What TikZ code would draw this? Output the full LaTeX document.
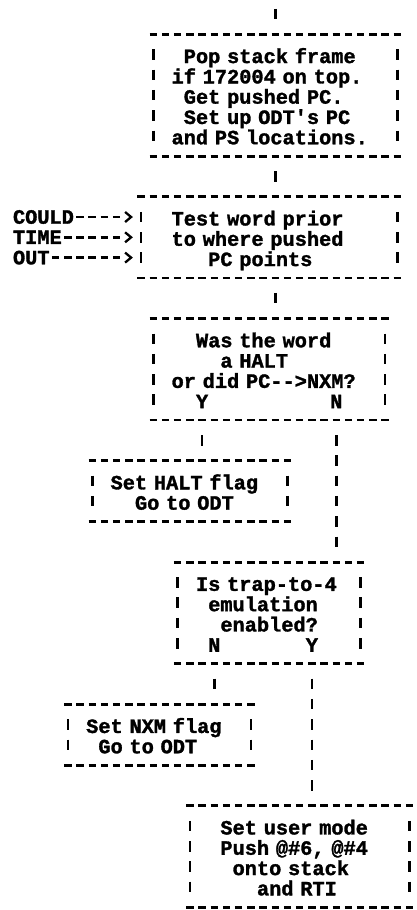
\documentclass[tikz,border=0pt]{standalone}
\usepackage{fontspec}
\newfontfamily\asciifont{Liberation Mono}[BoldFeatures={FakeBold=1.5}]
\usetikzlibrary{arrows.meta}
\newlength\asciicw
\setlength\asciicw{12.2pt}
\newcommand\asciistrut{\rule[-4.2pt]{0pt}{20.3pt}}
\newcommand\aline[2]{\hspace*{#1\asciicw}\smash{\raisebox{-2.5pt}{#2}}\asciistrut}
\newcommand\asciiset{\asciifont\bfseries\fontsize{20.3}{20.3}\selectfont\setlength\parindent{0pt}}
\newcommand\asciiframe[1]{%
  \draw[hd] ([xshift=-3.75pt]#1.north west) -- ([xshift=3.75pt]#1.north east);
  \draw[hd] ([xshift=-3.75pt]#1.south west) -- ([xshift=3.75pt]#1.south east);
  \draw[vd] ([yshift=-15.05pt]#1.north west) -- ([yshift=15.05pt]#1.south west);
  \draw[vd] ([yshift=-15.05pt]#1.north east) -- ([yshift=15.05pt]#1.south east);}
\tikzset{
  txt/.style={font={\asciiset}, text=black, inner sep=0pt, outer sep=0pt},
  asciibox/.style={txt, rectangle, align=left},
  hd/.style={line width=2.8pt, dash pattern=on 7.5pt off 4.7pt},
  vd/.style={line width=2.7pt, dash pattern=on 10.5pt off 9.8pt},
  link/.style={vd, shorten <=15.05pt, shorten >=15.05pt},
  feed/.style={line width=2.8pt, shorten >=8.2pt, -{Straight Barb[length=6pt,width=10pt,line width=2.3pt]}},
}
\begin{document}
\begin{tikzpicture}
\fill[white] (0pt,0pt) rectangle (416pt,-910pt);
\useasboundingbox (0pt,0pt) rectangle (416pt,-910pt);
\begin{scope}[x=12.2pt, y=-20.3pt, shift={(19.1pt,-14pt)}]
% boxes
\node[asciibox, minimum width=244pt, minimum height=121.8pt, text width=231.8pt] (b1) at (21,4)
  {\aline{2}{Pop stack frame}\\\aline{1}{if 172004 on top.}\\\aline{2}{Get pushed PC.}\\\aline{2}{Set up ODT's PC}\\\aline{1}{and PS locations.}};
\node[asciibox, minimum width=256.2pt, minimum height=81.2pt, text width=244pt] (b2) at (20.5,11)
  {\aline{2}{Test word prior}\\\aline{2}{to where pushed}\\\aline{5}{PC points}};
\node[asciibox, minimum width=231.8pt, minimum height=101.5pt, text width=219.6pt] (b3) at (20.5,17.5)
  {\aline{3}{Was the word}\\\aline{5}{a HALT}\\\aline{1}{or did PC-{}->NXM?}\\\aline{3}{Y\hspace*{10\asciicw}N}};
\node[asciibox, minimum width=195.2pt, minimum height=60.9pt, text width=183pt] (b4) at (14,23.5)
  {\aline{1}{Set HALT flag}\\\aline{3}{Go to ODT}};
\node[asciibox, minimum width=183pt, minimum height=101.5pt, text width=170.8pt] (b5) at (20.5,29.5)
  {\aline{1}{Is trap-to-4}\\\aline{2}{emulation}\\\aline{3}{enabled?}\\\aline{2}{N\hspace*{7\asciicw}Y}};
\node[asciibox, minimum width=183pt, minimum height=60.9pt, text width=170.8pt] (b6) at (11.5,35.5)
  {\aline{1}{Set NXM flag}\\\aline{2}{Go to ODT}};
\node[asciibox, minimum width=219.6pt, minimum height=101.5pt, text width=207.4pt] (b7) at (23,41.5)
  {\aline{2}{Set user mode}\\\aline{2}{Push @\#6, @\#4}\\\aline{3}{onto stack}\\\aline{5}{and RTI}};
\asciiframe{b1}\asciiframe{b2}\asciiframe{b3}\asciiframe{b4}
\asciiframe{b5}\asciiframe{b6}\asciiframe{b7}
% side entries
\node[txt, anchor=west] (could) at (-0.5,10) {COULD};
\node[txt, anchor=west] (time) at (-0.5,11) {TIME};
\node[txt, anchor=west] (out) at (-0.5,12) {OUT};
\draw[feed, dash pattern=on 0pt off 2.35pt on 7.5pt off 4.7pt on 7.5pt off 4.7pt on 7.5pt off 4.7pt on 7.5pt off 90pt]
  (could.east) -- (could.east -| b2.west);
\draw[feed, dash pattern=on 0pt off 2.35pt on 7.5pt off 4.7pt on 7.5pt off 4.7pt on 7.5pt off 4.7pt on 7.5pt off 4.7pt on 7.5pt off 90pt]
  (time.east) -- (time.east -| b2.west);
\draw[feed, dash pattern=on 0pt off 2.35pt on 7.5pt off 4.7pt on 7.5pt off 4.7pt on 7.5pt off 4.7pt on 7.5pt off 4.7pt on 7.5pt off 4.7pt on 7.5pt off 90pt]
  (out.east) -- (out.east -| b2.west);
% columns of the connectors
\coordinate (k21) at (21,0);
\coordinate (k15) at (15,0);
\coordinate (k26) at (26,0);
\coordinate (k16) at (16,0);
\coordinate (k24) at (24,0);
\coordinate (entry) at (21,-0.2586);
% connectors
\draw[vd, shorten >=15.05pt] (entry) -- (k21 |- b1.north);
\draw[link] (k21 |- b1.south) -- (k21 |- b2.north);
\draw[link] (k21 |- b2.south) -- (k21 |- b3.north);
\draw[link] (k15 |- b3.south) -- (k15 |- b4.north);
\draw[link] (k26 |- b3.south) -- (k26 |- b5.north);
\draw[link] (k16 |- b5.south) -- (k16 |- b6.north);
\draw[link] (k24 |- b5.south) -- (k24 |- b7.north);
\end{scope}
\end{tikzpicture}
\end{document}
